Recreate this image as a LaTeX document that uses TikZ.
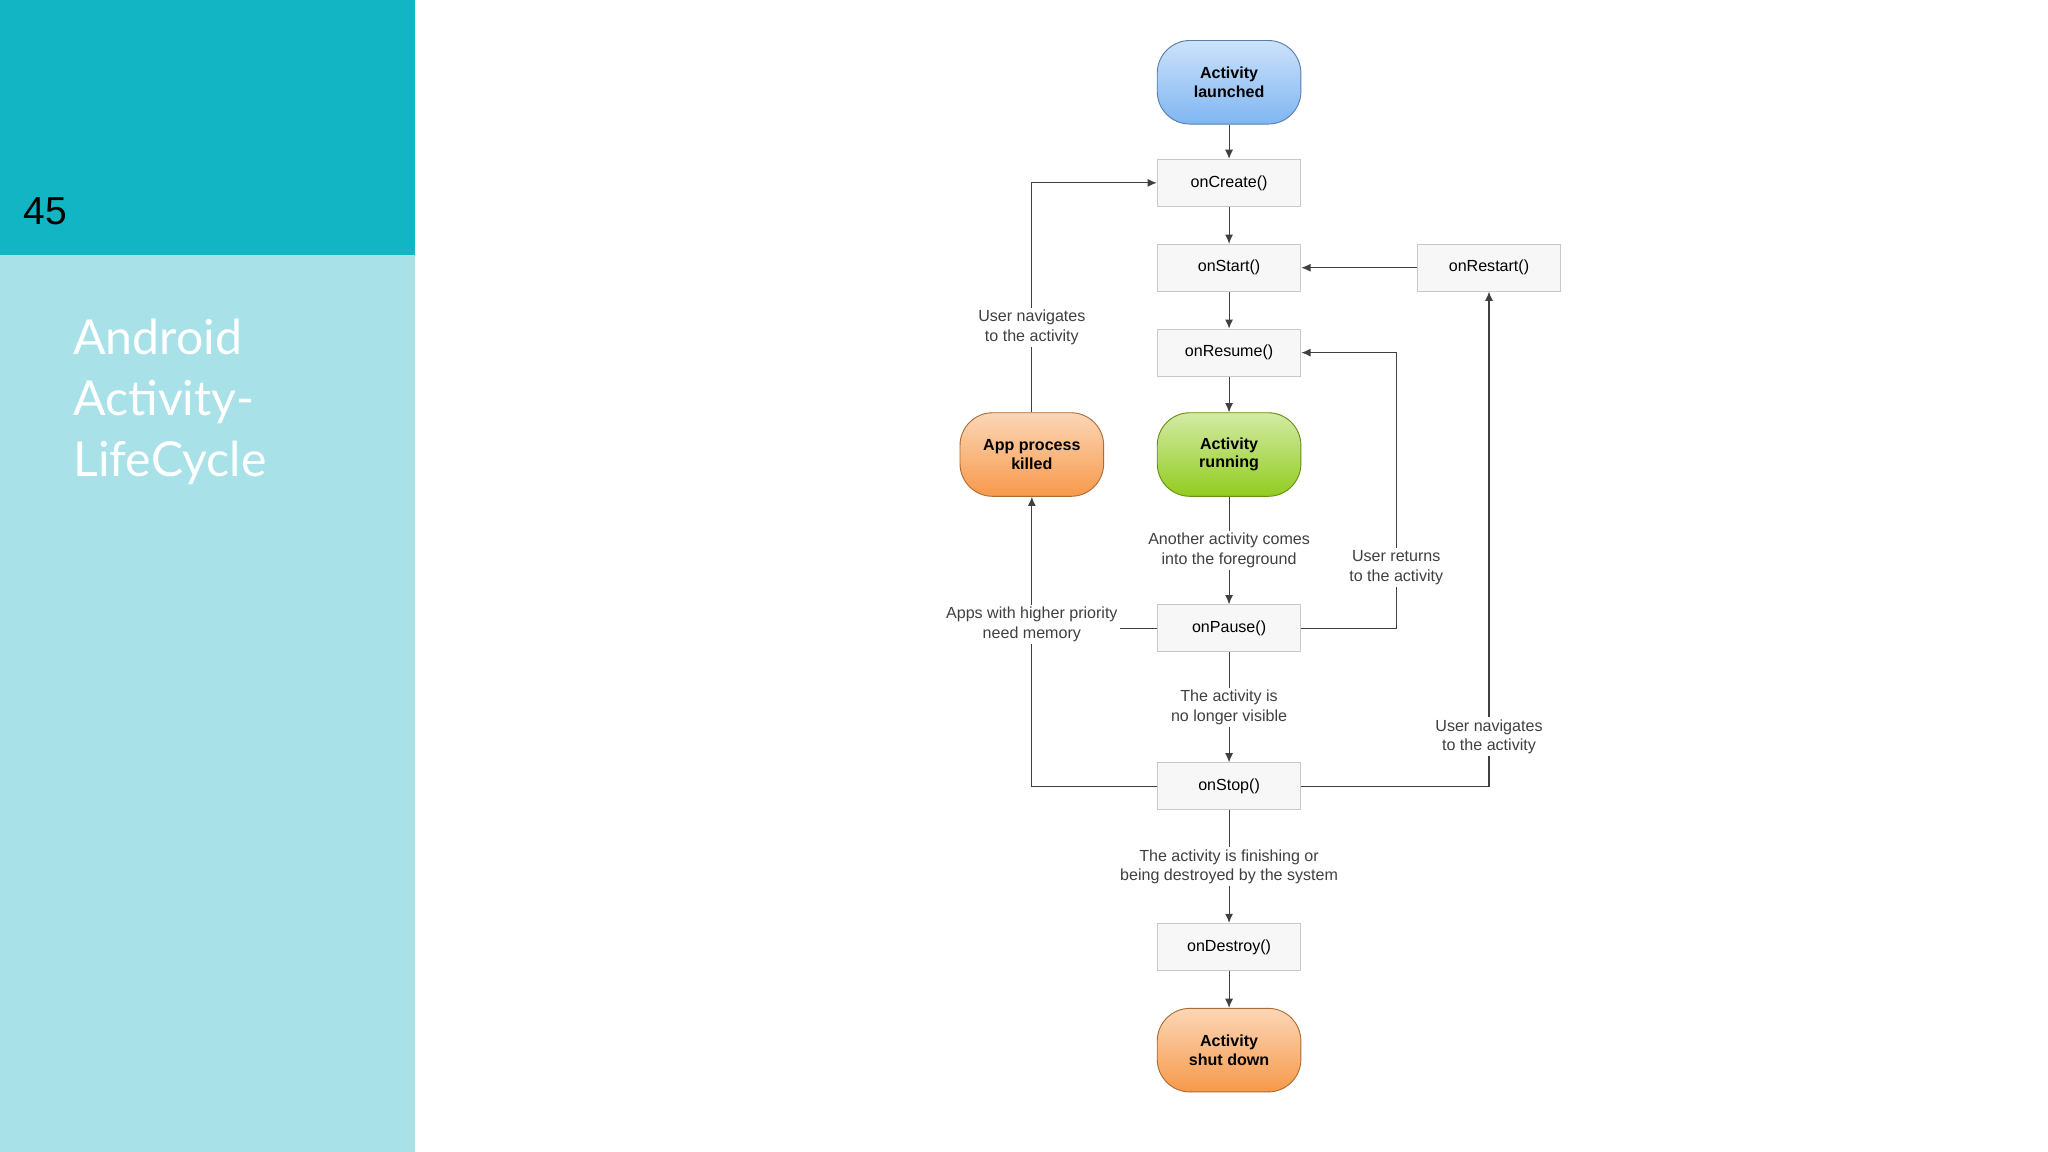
\documentclass[tikz,border=0pt]{standalone}
\usepackage{fontspec}
\setmainfont{Liberation Sans}
\newfontfamily\latof{Lato}
\usetikzlibrary{arrows.meta,positioning}
\definecolor{teal1}{HTML}{12B5C3}
\definecolor{teal2}{HTML}{A8E2E8}
\definecolor{boxb}{HTML}{C8C8C8}
\begin{document}
\begin{tikzpicture}[x=0.02cm,y=-0.02cm,
  box/.style={draw=boxb,fill=gray!6,minimum width=2.2cm,minimum height=0.72cm,inner sep=1pt,font=\fontsize{7}{8}\selectfont},
  st/.style={rounded corners=0.5cm,minimum width=2.2cm,minimum height=1.28cm,align=center,font=\fontsize{7}{8}\selectfont\bfseries,draw=#1!70!black,top color=#1!40!white,bottom color=#1},
  lab/.style={fill=white,align=center,inner sep=1pt,text=black!75,font=\fontsize{7}{8.5}\selectfont},
  ln/.style={draw=black!75,line width=0.5pt},
  ar/.style={ln,-{Latex[length=4pt,width=3.5pt]}}]
\useasboundingbox (0,0) rectangle (1568,882);
\fill[white] (0,0) rectangle (1568,882);
\fill[teal1] (0,0) rectangle (318,195);
\fill[teal2] (0,195) rectangle (318,882);
\node[anchor=west,font=\fontsize{17}{20}\selectfont] (num) at (12,162) {45};
\node[anchor=north west,align=left,text=white,font=\latof\fontsize{21}{26.5}\selectfont] (title) at (50,238) {Android\\Activity-\\LifeCycle};
\definecolor{cb}{HTML}{7FB6F2}\definecolor{cg}{HTML}{92CC1E}\definecolor{co}{HTML}{F7994A}
\node[st=cb] (launch) at (941,63) {Activity\\launched};
\node[box] (create) at (941,140) {onCreate()};
\node[box] (start) at (941,205) {onStart()};
\node[box] (resume) at (941,270) {onResume()};
\node[st=cg] (run) at (941,348) {Activity\\running};
\node[box] (pause) at (941,481) {onPause()};
\node[box] (stop) at (941,602) {onStop()};
\node[box] (destroy) at (941,725) {onDestroy()};
\node[st=co] (shut) at (941,804) {Activity\\shut down};
\node[box] (restart) at (1140,205) {onRestart()};
\node[st=co] (killed) at (790,348) {App process\\killed};
\draw[ar] (launch) -- (create);
\draw[ar] (create) -- (start);
\draw[ar] (start) -- (resume);
\draw[ar] (resume) -- (run);
\draw[ar] (run) -- node[lab] (l1) {Another activity comes\\into the foreground} (pause);
\draw[ar] (pause) -- node[lab] (l2) {The activity is\\no longer visible} (stop);
\draw[ar] (stop) -- node[lab] (l3) {The activity is finishing or\\being destroyed by the system} (destroy);
\draw[ar] (destroy) -- (shut);
\draw[ar] (restart) -- (start);
\coordinate (k1) at (790,602);
\draw[ar] (stop.west) -- (k1) -- node[lab,pos=0.56] (l4) {Apps with higher priority\\need memory} (killed.south);
\draw[ln] (pause.west) -- (l4.east |- pause.west);
\coordinate (k2) at (790,140);
\draw[ar] (killed.north) -- node[lab,pos=0.37] (l5) {User navigates\\to the activity} (k2) -- (create.west);
\coordinate (p1) at (1069,481); \coordinate (p2) at (1069,270);
\draw[ar] (pause.east) -- (p1) -- node[lab,pos=0.22] (l6) {User returns\\to the activity} (p2) -- (resume.east);
\coordinate (s1) at (1140,602);
\draw[ar] (stop.east) -- (s1) -- node[lab,pos=0.1] (l7) {User navigates\\to the activity} (restart.south);
\end{tikzpicture}
\end{document}
